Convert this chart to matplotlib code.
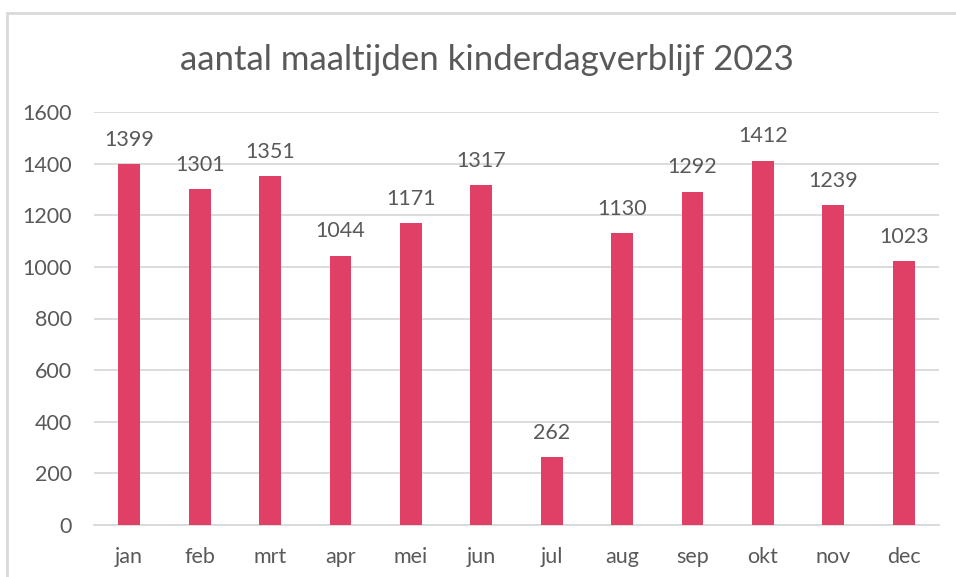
import matplotlib.pyplot as plt
from matplotlib.patches import Rectangle

# data
maanden = ['jan', 'feb', 'mrt', 'apr', 'mei', 'jun', 'jul', 'aug', 'sep', 'okt', 'nov', 'dec']
maaltijden = [1399, 1301, 1351, 1044, 1171, 1317, 262, 1130, 1292, 1412, 1239, 1023]

plt.rcParams['font.family'] = ['Lato', 'DejaVu Sans']
grijs = '#595959'

fig = plt.figure(figsize=(9.56, 5.77), dpi=100)
# light chart border, like an Excel chart box
fig.patches.append(Rectangle((7/956, -0.05), 1.0, 1 - 13/577 + 0.05, transform=fig.transFigure,
                             fill=False, edgecolor='#d9d9d9', linewidth=2))

ax = fig.add_axes([94/956, 1 - 525/577, (939 - 94)/956, (525 - 112)/577])
x = range(len(maanden))
bars = ax.bar(x, maaltijden, width=0.31, color='#E04066', zorder=3)

for b, v in zip(bars, maaltijden):
    ax.text(b.get_x() + b.get_width()/2, v + 55, str(v), ha='center', va='bottom',
            fontsize=15.5, color=grijs)

ax.set_ylim(0, 1600)
ax.set_xlim(-0.5, len(maanden) - 0.5)
ax.set_yticks(range(0, 1601, 200))
ax.set_xticks(list(x))
ax.set_xticklabels(maanden)
ax.yaxis.grid(True, color='#d9d9d9', linewidth=1.3, zorder=0)
for s in ['top', 'right', 'left']:
    ax.spines[s].set_visible(False)
ax.spines['bottom'].set_color('#d9d9d9')
ax.spines['bottom'].set_linewidth(1.3)
ax.tick_params(axis='both', length=0, labelsize=15.5, colors=grijs)
ax.tick_params(axis='y', pad=16)
ax.tick_params(axis='x', pad=16)

fig.text(487/956, 1 - 60/577, 'aantal maaltijden kinderdagverblijf 2023', ha='center', va='center',
         fontsize=25, color=grijs)

plt.savefig('out.png', dpi=100)
